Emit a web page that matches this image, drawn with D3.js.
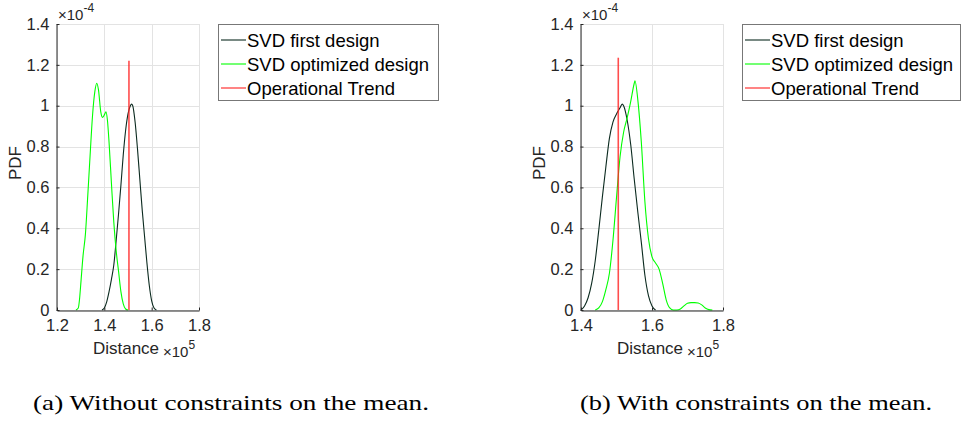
<!DOCTYPE html>
<html>
<head>
<meta charset="utf-8">
<script src="https://cdn.jsdelivr.net/npm/d3@7"></script>
<style>
  html, body { margin: 0; padding: 0; background: #fff; }
  svg { display: block; }
</style>
</head>
<body>
<svg id="fig" width="961" height="425"></svg>
<script>
// Axis ticks (distance in units of 1e5, density in units of 1e-4)
const yTicks = [0, 0.2, 0.4, 0.6, 0.8, 1.0, 1.2, 1.4];
const xTicksA = [1.2, 1.4, 1.6, 1.8];
const xTicksB = [1.4, 1.6, 1.8];

const legendLabels = ["SVD first design", "SVD optimized design", "Operational Trend"];
const seriesColors = ["#0b2a1f", "#00ff00", "#ff2020"];
const captions = ["(a) Without constraints on the mean.", "(b) With constraints on the mean."];

// Panel (a): without constraints on the mean  — [distance, pdf]
const firstDesignA = [
  [1.39, 0], [1.40, 0.01], [1.41, 0.04], [1.42, 0.09], [1.43, 0.15], [1.44, 0.22],
  [1.45, 0.34], [1.46, 0.47], [1.47, 0.61], [1.48, 0.76], [1.49, 0.88], [1.50, 0.96],
  [1.51, 1.0], [1.515, 1.008], [1.52, 1.0], [1.53, 0.92], [1.54, 0.79], [1.55, 0.64],
  [1.56, 0.49], [1.57, 0.36], [1.58, 0.23], [1.59, 0.12], [1.60, 0.045], [1.61, 0.01], [1.62, 0]
];
const optimizedA = [
  [1.28, 0], [1.29, 0.01], [1.295, 0.05], [1.30, 0.12], [1.31, 0.265], [1.32, 0.37],
  [1.33, 0.56], [1.34, 0.76], [1.35, 0.95], [1.36, 1.07], [1.368, 1.11], [1.375, 1.08],
  [1.385, 0.97], [1.392, 0.943], [1.40, 0.955], [1.407, 0.97], [1.413, 0.93], [1.42, 0.82],
  [1.43, 0.62], [1.44, 0.43], [1.45, 0.29], [1.46, 0.19], [1.47, 0.09], [1.48, 0.03],
  [1.49, 0.005], [1.50, 0]
];
const trendA = [1.504, 1.22];   // [distance, line height]

// Panel (b): with constraints on the mean
const firstDesignB = [
  [1.40, 0], [1.41, 0.02], [1.42, 0.06], [1.43, 0.13], [1.44, 0.24], [1.45, 0.39],
  [1.46, 0.55], [1.47, 0.70], [1.48, 0.84], [1.49, 0.92], [1.50, 0.96], [1.51, 0.99],
  [1.516, 1.008], [1.52, 1.0], [1.53, 0.93], [1.54, 0.81], [1.55, 0.64], [1.56, 0.48],
  [1.57, 0.33], [1.58, 0.17], [1.59, 0.07], [1.60, 0.02], [1.61, 0]
];
const optimizedB = [
  [1.44, 0], [1.45, 0.01], [1.46, 0.04], [1.47, 0.10], [1.48, 0.18], [1.49, 0.34],
  [1.50, 0.55], [1.51, 0.75], [1.52, 0.87], [1.53, 0.94], [1.54, 1.02], [1.55, 1.11],
  [1.552, 1.122], [1.56, 1.03], [1.57, 0.82], [1.58, 0.53], [1.59, 0.35], [1.60, 0.26],
  [1.61, 0.23], [1.62, 0.20], [1.63, 0.13], [1.64, 0.05], [1.65, 0.01], [1.66, 0],
  [1.67, 0], [1.68, 0.005], [1.69, 0.02], [1.70, 0.033], [1.71, 0.036], [1.72, 0.036],
  [1.73, 0.034], [1.74, 0.025], [1.75, 0.01], [1.76, 0.002], [1.77, 0]
];
const trendB = [1.505, 1.235];

const panels = [
  { xDomain: [1.2, 1.8], xTicks: xTicksA, series: [firstDesignA, optimizedA], trend: trendA,
    left: 57, right: 199, legend: { x: 218, w: 220 },
    caption: captions[0], capX: 33, capW: 396 },
  { xDomain: [1.4, 1.8], xTicks: xTicksB, series: [firstDesignB, optimizedB], trend: trendB,
    left: 581, right: 723, legend: { x: 742, w: 218 },
    caption: captions[1], capX: 580, capW: 352 }
];

const plotTop = 24, plotBottom = 310;
const axisColor = "#262626", gridColor = "#e3e3e3";
const sans = "'Liberation Sans', Arial, sans-serif";
const svg = d3.select("#fig");

panels.forEach(p => {
  const x = d3.scaleLinear().domain(p.xDomain).range([p.left, p.right]);
  const y = d3.scaleLinear().domain([0, 1.4]).range([plotBottom, plotTop]);
  const g = svg.append("g");

  // grid
  g.append("g").selectAll("line").data(p.xTicks).join("line")
    .attr("x1", d => Math.round(x(d)) + 0.5).attr("x2", d => Math.round(x(d)) + 0.5)
    .attr("y1", plotTop).attr("y2", plotBottom)
    .attr("stroke", gridColor).attr("stroke-width", 1);
  g.append("g").selectAll("line").data(yTicks).join("line")
    .attr("y1", d => Math.round(y(d)) + 0.5).attr("y2", d => Math.round(y(d)) + 0.5)
    .attr("x1", p.left).attr("x2", p.right)
    .attr("stroke", gridColor).attr("stroke-width", 1);

  // density curves
  const line = d3.line().x(d => x(d[0])).y(d => y(d[1])).curve(d3.curveMonotoneX);
  p.series.forEach((s, i) => {
    g.append("path").datum(s).attr("d", line)
      .attr("fill", "none").attr("stroke", seriesColors[i]).attr("stroke-width", 1.1);
  });
  // operational trend marker
  g.append("line")
    .attr("x1", x(p.trend[0])).attr("x2", x(p.trend[0]))
    .attr("y1", y(0)).attr("y2", y(p.trend[1]))
    .attr("stroke", seriesColors[2]).attr("stroke-opacity", 0.8).attr("stroke-width", 1.6);

  // axes
  const xAxis = d3.axisBottom(x).tickValues(p.xTicks).tickFormat(d3.format(".1f"))
    .tickSizeInner(-3).tickSizeOuter(0).tickPadding(9);
  const yAxis = d3.axisLeft(y).tickValues(yTicks).tickFormat(d3.format("~g"))
    .tickSizeInner(-3).tickSizeOuter(0).tickPadding(7);
  const gx = g.append("g").attr("transform", `translate(0,${plotBottom + 0.5})`).call(xAxis);
  const gy = g.append("g").attr("transform", `translate(${p.left - 0.5},0)`).call(yAxis);
  [gx, gy].forEach(a => {
    a.select(".domain").attr("stroke", axisColor);
    a.selectAll(".tick line").attr("stroke", axisColor);
    a.selectAll(".tick text").attr("fill", axisColor)
      .style("font-family", sans).style("font-size", "16.5px");
  });

  // axis labels and exponents
  const xMid = (p.left + p.right) / 2;
  g.append("text").attr("x", xMid - 2).attr("y", 354).attr("text-anchor", "middle")
    .style("font-family", sans).style("font-size", "17px").attr("fill", axisColor)
    .text("Distance");
  const ex = g.append("text").attr("x", xMid + 35).attr("y", 357)
    .style("font-family", sans).style("font-size", "15px").attr("fill", axisColor);
  ex.append("tspan").text("×10");
  ex.append("tspan").attr("dy", -8).style("font-size", "12px").text("5");

  g.append("text")
    .attr("transform", `translate(${p.left - 36},${(plotTop + plotBottom) / 2 - 4}) rotate(-90)`)
    .attr("text-anchor", "middle")
    .style("font-family", sans).style("font-size", "17px").attr("fill", axisColor)
    .text("PDF");

  const ey = g.append("text").attr("x", p.left + 1).attr("y", 20)
    .style("font-family", sans).style("font-size", "15px").attr("fill", axisColor);
  ey.append("tspan").text("×10");
  ey.append("tspan").attr("dy", -8).style("font-size", "12px").text("-4");

  // legend
  const L = p.legend;
  const lg = g.append("g");
  lg.append("rect").attr("x", L.x + 0.5).attr("y", plotTop + 0.5).attr("width", L.w).attr("height", 76)
    .attr("fill", "#fff").attr("stroke", "#777").attr("stroke-width", 1);
  legendLabels.forEach((lab, i) => {
    const yy = 40 + i * 24;
    lg.append("line").attr("x1", L.x + 3).attr("x2", L.x + 28).attr("y1", yy).attr("y2", yy)
      .attr("stroke", seriesColors[i]).attr("stroke-width", 1.1);
    lg.append("text").attr("x", L.x + 29).attr("y", yy).attr("dy", "0.36em")
      .style("font-family", sans).style("font-size", "18.5px").attr("fill", "#000")
      .text(lab);
  });

  // caption
  g.append("text").attr("x", p.capX).attr("y", 410)
    .attr("textLength", p.capW).attr("lengthAdjust", "spacingAndGlyphs")
    .style("font-family", "'Liberation Serif', 'DejaVu Serif', serif").style("font-size", "22px")
    .attr("fill", "#000").text(p.caption);
});
</script>
</body>
</html>
